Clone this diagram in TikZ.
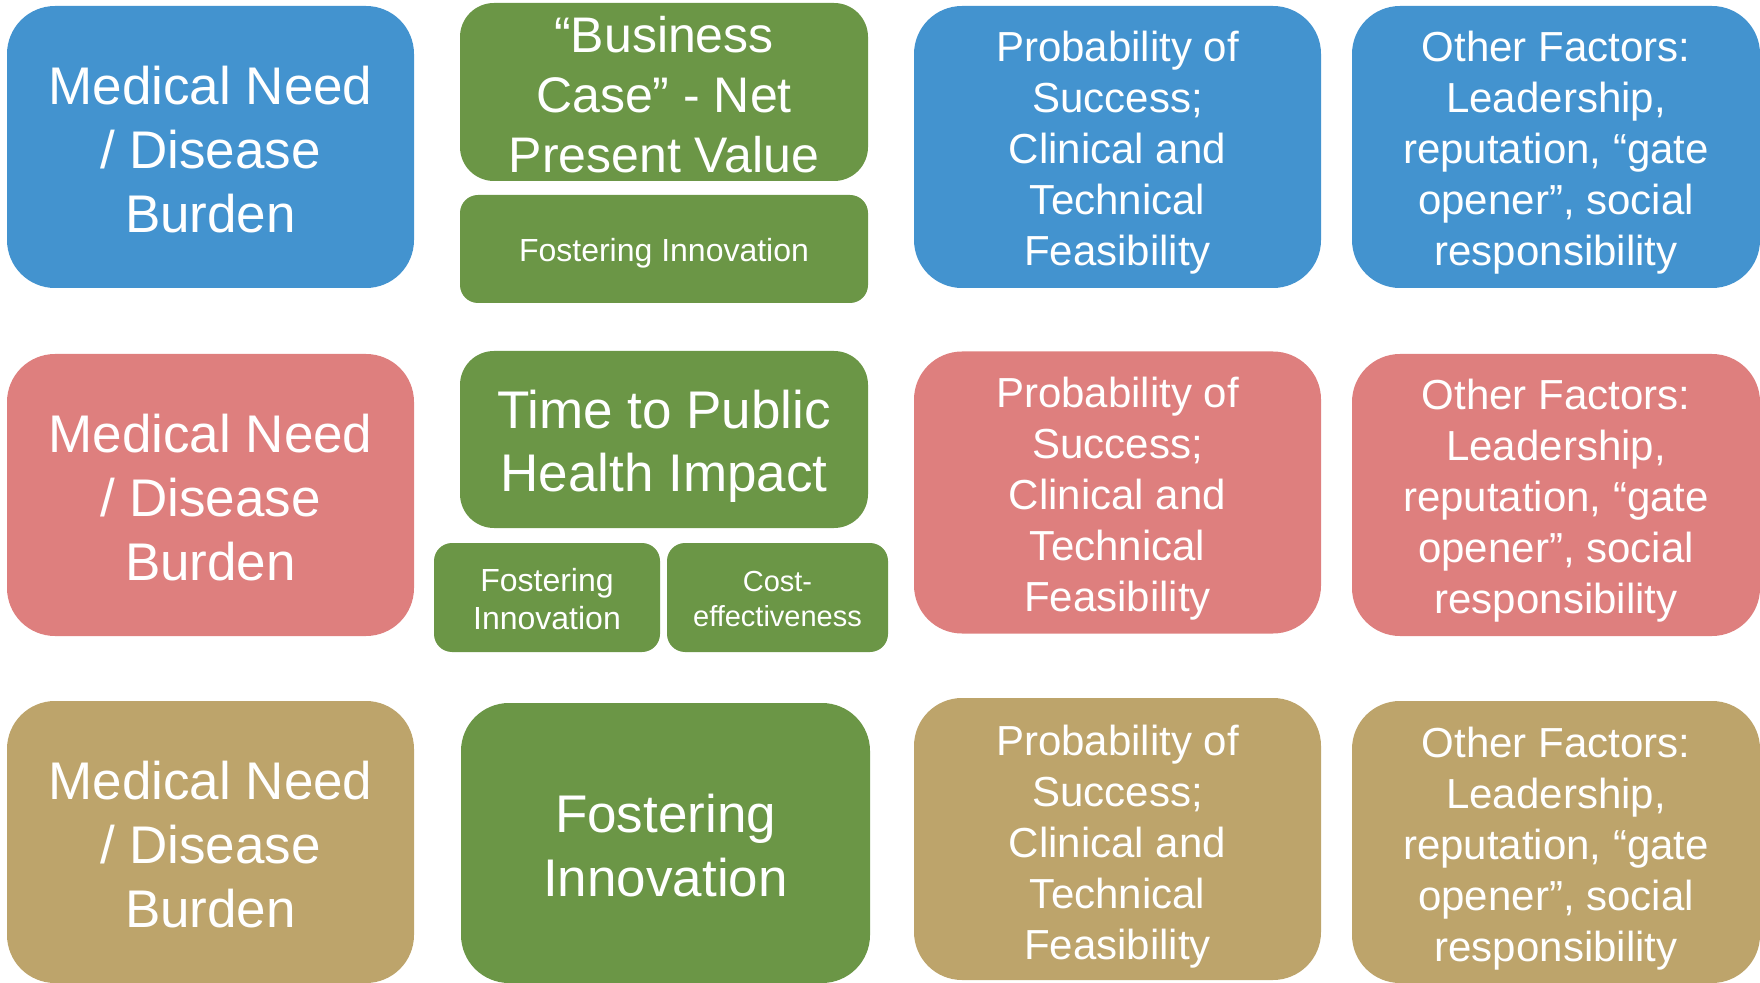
\documentclass[tikz,border=0pt]{standalone}
\usepackage{fontspec}
\setmainfont{Liberation Sans}
\definecolor{needblue}{HTML}{4393CF}
\definecolor{needred}{HTML}{DE7F7E}
\definecolor{needtan}{HTML}{BDA46B}
\definecolor{valuegreen}{HTML}{6B9646}
% taller first line, pushes the text block down a little
\newcommand{\capgap}[1]{\rule{0pt}{#1}}
\begin{document}
\begin{tikzpicture}[x=0.5pt, y=-0.5pt,
   card/.style ={rounded corners=24pt, text=white, inner sep=0pt, align=center,
                 minimum width=203.5pt, minimum height=141pt},
   bigtext/.style ={font=\fontsize{26.5}{32}\selectfont},
   smalltext/.style ={font=\fontsize{21}{25.5}\selectfont}]
   \useasboundingbox (0,0) rectangle (1760,983);

   % first column: medical need
   \node[card, bigtext, fill=needblue] (needA) at (210.5,147) {\capgap{21.6pt}Medical Need\\/ Disease\\Burden};
   \node[card, bigtext, fill=needred]  (needB) at (210.5,495) {\capgap{21.6pt}Medical Need\\/ Disease\\Burden};
   \node[card, bigtext, fill=needtan]  (needC) at (210.5,842) {\capgap{21.6pt}Medical Need\\/ Disease\\Burden};

   % green column
   \node[card, fill=valuegreen, rounded corners=17pt, minimum width=204pt, minimum height=89pt,
         font=\fontsize{25}{30}\selectfont] (npv) at (664,92) {\capgap{20.5pt}“Business\\Case” - Net\\Present Value};
   \node[card, fill=valuegreen, rounded corners=9pt, minimum width=204pt, minimum height=54pt,
         font=\fontsize{16}{19}\selectfont] (fostA) at (664,249) {\capgap{16.2pt}Fostering Innovation};
   \node[card, fill=valuegreen, rounded corners=17pt, minimum width=204pt, minimum height=88.5pt,
         font=\fontsize{26.5}{31.5}\selectfont] (impact) at (664,439.5) {\capgap{26pt}Time to Public\\Health Impact};
   \node[card, fill=valuegreen, rounded corners=9pt, minimum width=113pt, minimum height=54.5pt,
         font=\fontsize{16}{19}\selectfont] (fostB) at (547,597.5) {\capgap{12.8pt}Fostering\\Innovation};
   \node[card, fill=valuegreen, rounded corners=9pt, minimum width=110.5pt, minimum height=54.5pt,
         font=\fontsize{14.5}{17.5}\selectfont] (cost) at (777.5,597.5) {\capgap{11.7pt}Cost-\\effectiveness};
   \node[card, bigtext, fill=valuegreen, minimum width=204.5pt, minimum height=140pt] (fostC) at (665.5,843) {\capgap{21.6pt}Fostering\\Innovation};

   % third column: probability of success
   \node[card, smalltext, fill=needblue] (probA) at (1117.5,147)   {\capgap{20.9pt}Probability of\\Success;\\Clinical and\\Technical\\Feasibility};
   \node[card, smalltext, fill=needred]  (probB) at (1117.5,492.5) {\capgap{21.5pt}Probability of\\Success;\\Clinical and\\Technical\\Feasibility};
   \node[card, smalltext, fill=needtan]  (probC) at (1117.5,839)   {\capgap{23.2pt}Probability of\\Success;\\Clinical and\\Technical\\Feasibility};

   % fourth column: other factors
   \node[card, smalltext, fill=needblue, minimum width=204pt] (otherA) at (1556,147) {\capgap{20.9pt}Other Factors:\\Leadership,\\reputation, “gate\\opener”, social\\responsibility};
   \node[card, smalltext, fill=needred,  minimum width=204pt] (otherB) at (1556,495) {\capgap{21.2pt}Other Factors:\\Leadership,\\reputation, “gate\\opener”, social\\responsibility};
   \node[card, smalltext, fill=needtan,  minimum width=204pt] (otherC) at (1556,842) {\capgap{22pt}Other Factors:\\Leadership,\\reputation, “gate\\opener”, social\\responsibility};
\end{tikzpicture}
\end{document}
